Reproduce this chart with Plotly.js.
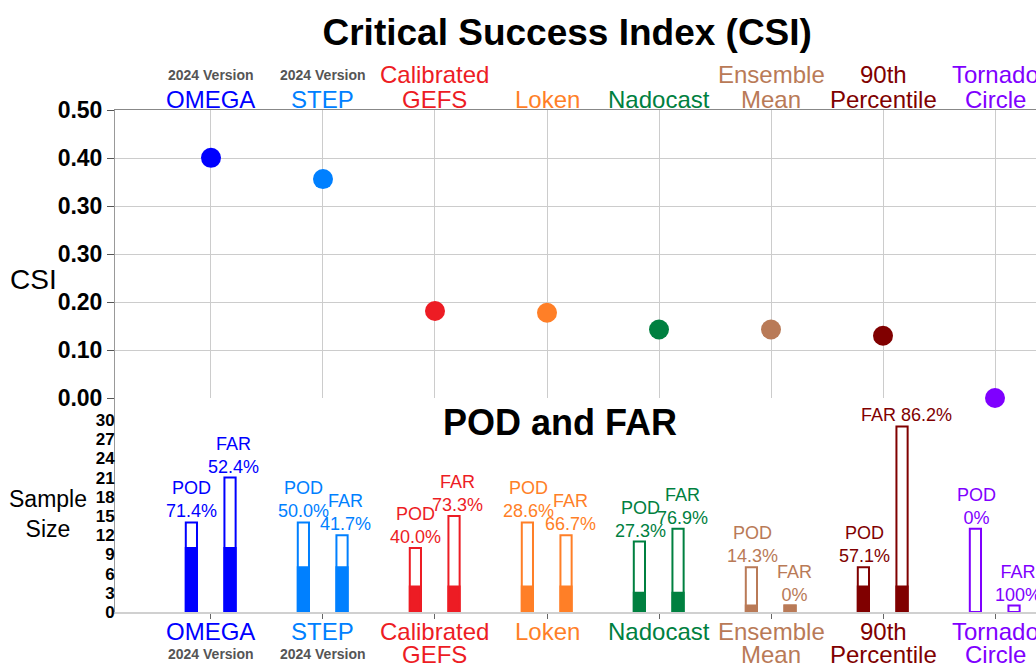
<!DOCTYPE html>
<html>
<head>
<meta charset="utf-8">
<script src="https://cdn.plot.ly/plotly-3.0.1.min.js"></script>
<style>
  html, body { margin: 0; padding: 0; background: #ffffff; }
  #chart { width: 1036px; height: 665px; }
</style>
</head>
<body>
<div id="chart"></div>
<script>
// ---------------- data ----------------
const categories = ['OMEGA', 'STEP', 'Calibrated GEFS', 'Loken', 'Nadocast', 'Ensemble Mean', '90th Percentile', 'Tornado Circle'];
const labelLines = [['OMEGA'], ['STEP'], ['Calibrated', 'GEFS'], ['Loken'], ['Nadocast'], ['Ensemble', 'Mean'], ['90th', 'Percentile'], ['Tornado', 'Circle']];
const versionNotes = ['2024 Version', '2024 Version', '', '', '', '', '', ''];
const colors = ['#0000FF', '#0080FF', '#ED1C24', '#FF7F27', '#008040', '#B97A57', '#800000', '#7F00FF'];

// CSI values as placed on the (oddly labelled) CSI axis
const csi = [0.417, 0.380, 0.151, 0.148, 0.119, 0.119, 0.108, 0.0];
const csiTickText = ['0.00', '0.10', '0.20', '0.30', '0.30', '0.40', '0.50'];

// sample sizes
const podTotal = [14, 14, 10, 14, 11, 7, 7, 13];   // observed events
const farTotal = [21, 12, 15, 12, 13, 1, 29, 1];   // forecasts issued
const hits     = [10, 7, 4, 4, 3, 1, 4, 0];
const podPct = ['71.4%', '50.0%', '40.0%', '28.6%', '27.3%', '14.3%', '57.1%', '0%'];
const farPct = ['52.4%', '41.7%', '73.3%', '66.7%', '76.9%', '0%', '86.2%', '100%'];
const sampleTicks = [0, 3, 6, 9, 12, 15, 18, 21, 24, 27, 30];

// ---------------- layout helpers ----------------
const FONT = 'Liberation Sans, Arial, Helvetica, sans-serif';
const splitY = 0.4263;
const csiTickVals = csiTickText.map((t, i) => i * 0.5 / (csiTickText.length - 1));

const traces = [
  {
    type: 'scatter', mode: 'markers', x: categories, y: csi,
    xaxis: 'x', yaxis: 'y', cliponaxis: false,
    marker: { color: colors, size: 20 }, hoverinfo: 'x+y'
  },
  {
    type: 'bar', x: categories, y: podTotal, xaxis: 'x2', yaxis: 'y2',
    offset: -0.225, width: 0.1,
    marker: { color: '#ffffff', opacity: 1, line: { color: colors, width: 2 } }
  },
  {
    type: 'bar', x: categories, y: hits, xaxis: 'x2', yaxis: 'y2',
    offset: -0.225, width: 0.1,
    marker: { color: colors, opacity: 1, line: { color: colors, width: 2 } }
  },
  {
    type: 'bar', x: categories, y: farTotal, xaxis: 'x2', yaxis: 'y2',
    offset: 0.12, width: 0.1,
    marker: { color: '#ffffff', opacity: 1, line: { color: colors, width: 2 } }
  },
  {
    type: 'bar', x: categories, y: hits, xaxis: 'x2', yaxis: 'y2',
    offset: 0.12, width: 0.1,
    marker: { color: colors, opacity: 1, line: { color: colors, width: 2 } }
  }
];

const annotations = [];

// category labels, top and bottom
categories.forEach((c, i) => {
  const lines = labelLines[i];
  const f = { family: FONT, size: 24, color: colors[i] };
  const base = { showarrow: false, font: f, xanchor: 'center', yanchor: 'middle' };
  if (lines.length === 2) {
    annotations.push(Object.assign({}, base, { xref: 'x', yref: 'paper', x: c, y: 1.0717, text: lines[0] }));
    annotations.push(Object.assign({}, base, { xref: 'x', yref: 'paper', x: c, y: 1.0219, text: lines[1] }));
    annotations.push(Object.assign({}, base, { xref: 'x2', yref: 'paper', x: c, y: -0.0398, text: lines[0] }));
    annotations.push(Object.assign({}, base, { xref: 'x2', yref: 'paper', x: c, y: -0.0846, text: lines[1] }));
  } else {
    annotations.push(Object.assign({}, base, { xref: 'x', yref: 'paper', x: c, y: 1.0219, text: lines[0] }));
    annotations.push(Object.assign({}, base, { xref: 'x2', yref: 'paper', x: c, y: -0.0398, text: lines[0] }));
  }
  if (versionNotes[i]) {
    const vf = { family: FONT, size: 14, color: '#555555', weight: 'bold' };
    annotations.push({ xref: 'x', yref: 'paper', x: c, y: 1.0697, text: versionNotes[i], showarrow: false, font: vf, xanchor: 'center', yanchor: 'middle' });
    annotations.push({ xref: 'x2', yref: 'paper', x: c, y: -0.0837, text: versionNotes[i], showarrow: false, font: vf, xanchor: 'center', yanchor: 'middle' });
  }
  // POD / FAR labels above bars
  const lf = { family: FONT, size: 18, color: colors[i] };
  annotations.push({
    xref: 'x2', yref: 'y2', x: c, y: podTotal[i], xshift: -19, yshift: 0,
    text: 'POD<br>' + podPct[i], showarrow: false, font: lf, xanchor: 'center', yanchor: 'bottom', borderpad: 0
  });
  annotations.push({
    xref: 'x2', yref: 'y2', x: c, y: farTotal[i], xshift: 23, yshift: 0,
    text: (farTotal[i] > 25 ? 'FAR ' : 'FAR<br>') + farPct[i], showarrow: false, font: lf, xanchor: 'center', yanchor: 'bottom', borderpad: 0
  });
});

// panel title and axis labels
annotations.push({ xref: 'paper', yref: 'paper', x: 0.4832, y: 0.3765, text: 'POD and FAR', showarrow: false,
  font: { family: FONT, size: 36, color: '#000000', weight: 'bold' }, xanchor: 'center', yanchor: 'middle' });
annotations.push({ xref: 'paper', yref: 'paper', x: -0.089, y: 0.6614, text: 'CSI', showarrow: false,
  font: { family: FONT, size: 28, color: '#000000' }, xanchor: 'center', yanchor: 'middle' });
annotations.push({ xref: 'paper', yref: 'paper', x: -0.0727, y: 0.1952, text: 'Sample<br>Size', showarrow: false,
  font: { family: FONT, size: 23, color: '#000000' }, xanchor: 'center', yanchor: 'middle' });

const layout = {
  width: 1036, height: 665,
  margin: { l: 115, r: 0, t: 110, b: 53, pad: 0 },
  paper_bgcolor: '#ffffff', plot_bgcolor: '#ffffff',
  showlegend: false, barmode: 'overlay',
  font: { family: FONT, color: '#000000' },
  title: {
    text: 'Critical Success Index (CSI)',
    font: { family: FONT, size: 37, color: '#000000', weight: 'bold' },
    xref: 'paper', x: 0.491, xanchor: 'center',
    yref: 'container', y: 0.952, yanchor: 'middle'
  },
  xaxis: {
    type: 'category', categoryarray: categories, categoryorder: 'array',
    range: [-0.857, 7.366], domain: [0, 1], anchor: 'y', side: 'top',
    showline: true, linecolor: '#888888', linewidth: 1,
    showgrid: true, gridcolor: '#cccccc', gridwidth: 1,
    ticks: '', showticklabels: false, zeroline: false, fixedrange: true
  },
  yaxis: {
    domain: [splitY, 1], anchor: 'x', range: [0, 0.5],
    tickmode: 'array', tickvals: csiTickVals, ticktext: csiTickText,
    tickfont: { family: FONT, size: 23, color: '#000000', weight: 'bold' },
    ticks: 'outside', ticklen: 7, tickcolor: '#555555', tickwidth: 1,
    showline: true, linecolor: '#999999', linewidth: 1,
    showgrid: true, gridcolor: '#cccccc', gridwidth: 1, zeroline: false, fixedrange: true
  },
  xaxis2: {
    type: 'category', categoryarray: categories, categoryorder: 'array',
    range: [-0.857, 7.366], domain: [0, 1], anchor: 'y2',
    showline: true, linecolor: '#d0d0d0', linewidth: 2,
    ticks: 'outside', ticklen: 5, tickcolor: '#666666', tickwidth: 1,
    showgrid: false, showticklabels: false, zeroline: false, fixedrange: true
  },
  yaxis2: {
    domain: [0, splitY], anchor: 'x2', range: [0, 33.44],
    tickmode: 'array', tickvals: sampleTicks,
    tickfont: { family: FONT, size: 17, color: '#000000', weight: 'bold' },
    ticks: '', ticklabelstandoff: -4,
    showline: true, linecolor: '#999999', linewidth: 1,
    showgrid: false, zeroline: false, fixedrange: true
  },
  annotations: annotations
};

Plotly.newPlot('chart', traces, layout, { displayModeBar: false, staticPlot: true });
</script>
</body>
</html>
